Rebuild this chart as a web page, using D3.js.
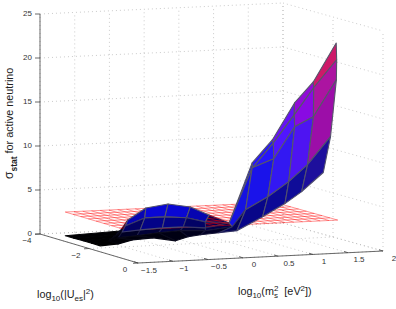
<!DOCTYPE html>
<html>
<head>
<meta charset="utf-8">
<script src="https://cdn.jsdelivr.net/npm/d3@7"></script>
<style>
body { margin: 0; background: #fff; }
svg { display: block; font-family: "Liberation Sans", sans-serif; }
</style>
</head>
<body>
<div id="chart"></div>
<script>
// tick values and labels
var massTicks = [-1.5, -1, -0.5, 0, 0.5, 1, 1.5, 2];
var massLabels = ['\u22121.5', '\u22121', '\u22120.5', '0', '0.5', '1', '1.5', '2'];
var mixTicks = [-4, -2, 0];
var mixLabels = ['\u22124', '\u22122', '0'];
var sigmaTicks = [0, 5, 10, 15, 20, 25];

// surface, one row per mixing value
var rowMix = [-2.25, -2.6, -2.95, -3.3, -3.65];
var rowMass = [
    [-1.25, -0.99, -0.79, -0.49, -0.17, 0.01, 0.19, 0.45, 0.71, 1.08, 1.40, 1.64, 1.95],
    [-1.25, -1.01, -0.87, -0.60, -0.29, 0.02, 0.38, 0.77, 0.96, 1.28, 1.58, 1.85, 2.18],
    [-1.25, -0.83, -0.69, -0.43, -0.11, 0.19, 0.51, 0.85, 1.18, 1.49, 1.79, 2.06, 2.39],
    [-1.26, -0.65, -0.52, -0.24, 0.05, 0.36, 0.63, 0.98, 1.31, 1.61, 1.91, 2.19, 2.52],
    [-1.26, -0.47, -0.36, -0.10, 0.22, 0.54, 0.81, 1.10, 1.43, 1.72, 2.04, 2.31, 2.64]
];
var rowSigma = [
    [0, 0.13, 0.51, 0.63, 0.17, 0.56, 0.73, 0.86, 1.00, 2.45, 3.82, 5.09, 7.15],
    [0, 0.19, 0.48, 0.61, 0.84, 0.96, 0.83, 1.14, 3.01, 4.37, 5.97, 7.80, 10.87],
    [0, 0.17, 0.80, 0.94, 1.05, 1.06, 0.83, 1.27, 7.41, 8.32, 11.85, 12.89, 16.97],
    [0, 0.16, 1.14, 1.95, 1.96, 1.74, 1.18, 0.95, 7.08, 9.81, 12.88, 15.86, 18.92],
    [0, 0.26, 1.47, 2.74, 3.08, 2.63, 1.62, 0.61, 7.31, 9.82, 13.91, 16.20, 20.51]
];

// flat reference plane
var planeLevel = 2.7;
var planeMass = [-1.26, 1.76];
var planeMix = [-3.65, -1.14];

var width = 396, height = 309;
var svg = d3.select('#chart').append('svg')
    .attr('width', width)
    .attr('height', height);

// box corners on screen, the rest is placed from these with the scales
var uScale = d3.scaleLinear().domain([-1.5, 2]).range([0, 1]);
var vScale = d3.scaleLinear().domain([-4, 0]).range([0, 1]);
var zScale = d3.scaleLinear().domain([0, 25]).range([0, -220]);

function project(x, y, z) {
    var u = uScale(x), v = vScale(y);
    return [
        40 + 243 * u + 98 * v + 2 * u * v,
        234 - 11 * u + 29 * v - u * v + zScale(z)
    ];
}

function line3(g, a, b) {
    var p = project(a[0], a[1], a[2]), q = project(b[0], b[1], b[2]);
    return g.append('line')
        .attr('x1', p[0]).attr('y1', p[1])
        .attr('x2', q[0]).attr('y2', q[1]);
}

// dotted grid on both walls and the floor
var grid = svg.append('g')
    .attr('stroke', '#b5b5b5')
    .attr('stroke-width', 0.7)
    .attr('stroke-dasharray', '1 3');

sigmaTicks.forEach(function(s) {
    line3(grid, [-1.5, -4, s], [2, -4, s]);
    line3(grid, [2, -4, s], [2, 0, s]);
});
massTicks.forEach(function(m) {
    line3(grid, [m, -4, 0], [m, -4, 25]);
    line3(grid, [m, -4, 0], [m, 0, 0]);
});
mixTicks.forEach(function(u) {
    line3(grid, [2, u, 0], [2, u, 25]);
    line3(grid, [-1.5, u, 0], [2, u, 0]);
});

// surface cells
var sigmaColor = d3.scaleLinear()
    .domain([0, 8, 12, 13, 16, 17, 19, 20.5])
    .range(['#0000eb', '#1914f5', '#3719ff', '#5514ff', '#8c0ae1', '#a50faf', '#ac14a0', '#cd1969'])
    .interpolate(d3.interpolateRgb);
var lightScale = d3.scaleLinear()
    .domain([0, 0.5, 1, 2, 3.5])
    .range([0, 0.06, 0.32, 0.85, 1])
    .clamp(true);
var bandLight = [0.62, 0.95, 1, 1];

var cells = [];
d3.range(rowMix.length - 1).forEach(function(j) {
    d3.range(rowMass[j].length - 1).forEach(function(i) {
        var corners = [[j, i], [j, i + 1], [j + 1, i + 1], [j + 1, i]].map(function(c) {
            return [rowMass[c[0]][c[1]], rowMix[c[0]], rowSigma[c[0]][c[1]]];
        });
        cells.push({ band: j, col: i, corners: corners });
    });
});

function cellMean(d) { return d3.mean(d.corners, function(c) { return c[2]; }); }
function cellMax(d) { return d3.max(d.corners, function(c) { return c[2]; }); }

// back rows first
cells.sort(function(a, b) { return b.band - a.band || a.col - b.col; });

function drawCells(list) {
    var path = d3.line();
    svg.append('g').selectAll('path')
        .data(list)
        .join('path')
        .attr('d', function(d) {
            return path(d.corners.map(function(c) { return project(c[0], c[1], c[2]); })) + 'Z';
        })
        .each(function(d) {
            var shade = lightScale(cellMean(d)) * bandLight[d.band];
            var fill = d3.interpolateRgb('#000', sigmaColor(cellMax(d)))(shade);
            d3.select(this)
                .attr('fill', fill)
                .attr('stroke', d3.interpolateRgb(fill, '#55556a')(Math.min(1, shade * 1.5)))
                .attr('stroke-width', 1.1)
                .attr('stroke-linejoin', 'round');
        });
}

// the plane passes through the surface: low cells are seen through it
var splitAt = 1.2;
drawCells(cells.filter(function(d) { return cellMean(d) < splitAt; }));

var plane = svg.append('g')
    .attr('stroke', '#ff0000')
    .attr('stroke-width', 0.5)
    .attr('stroke-opacity', 0.85);
d3.range(0, 25).forEach(function(k) {
    var m = planeMass[0] + k * (planeMass[1] - planeMass[0]) / 24;
    line3(plane, [m, planeMix[0], planeLevel], [m, planeMix[1], planeLevel]);
});
d3.range(0, 9).forEach(function(k) {
    var u = planeMix[0] + k * (planeMix[1] - planeMix[0]) / 8;
    line3(plane, [planeMass[0], u, planeLevel], [planeMass[1], u, planeLevel]);
});

drawCells(cells.filter(function(d) { return cellMean(d) >= splitAt; }));

// axis lines and ticks
var axes = svg.append('g')
    .attr('stroke', '#444')
    .attr('stroke-width', 0.8);
line3(axes, [-1.5, -4, 0], [-1.5, -4, 25]);
line3(axes, [-1.5, -4, 0], [-1.5, 0, 0]);
line3(axes, [-1.5, 0, 0], [2, 0, 0]);

sigmaTicks.forEach(function(s) {
    var p = project(-1.5, -4, s);
    axes.append('line')
        .attr('x1', p[0] - 5).attr('y1', p[1])
        .attr('x2', p[0]).attr('y2', p[1]);
    svg.append('text')
        .attr('x', p[0] - 8)
        .attr('y', p[1] + 2)
        .attr('text-anchor', 'end')
        .attr('font-size', 8)
        .attr('fill', '#333')
        .text(s);
});
massTicks.forEach(function(m, i) {
    var p = project(m, 0, 0);
    axes.append('line')
        .attr('x1', p[0]).attr('y1', p[1])
        .attr('x2', p[0] - 4).attr('y2', p[1] - 1.2);
    svg.append('text')
        .attr('x', p[0] + 11)
        .attr('y', p[1] + 9.5)
        .attr('text-anchor', 'middle')
        .attr('font-size', 8)
        .attr('fill', '#333')
        .text(massLabels[i]);
});
mixTicks.forEach(function(u, i) {
    var p = project(-1.5, u, 0);
    axes.append('line')
        .attr('x1', p[0]).attr('y1', p[1])
        .attr('x2', p[0] - 5).attr('y2', p[1] + 0.3);
    svg.append('text')
        .attr('x', p[0] - 13)
        .attr('y', p[1] + 9)
        .attr('text-anchor', 'middle')
        .attr('font-size', 8)
        .attr('fill', '#333')
        .text(mixLabels[i]);
});

// axis titles
function title(x, y, rotate, parts) {
    var t = svg.append('text')
        .attr('transform', 'translate(' + x + ',' + y + ') rotate(' + rotate + ')')
        .attr('font-size', 10.8)
        .attr('fill', '#222');
    parts.forEach(function(p) {
        var s = t.append('tspan').text(p.text);
        if (p.dy) s.attr('dy', p.dy);
        if (p.dx) s.attr('dx', p.dx);
        if (p.size) s.attr('font-size', p.size);
        if (p.weight) s.attr('font-weight', p.weight);
    });
}

title(13, 179, -90, [
    { text: '\u03c3', size: 12 },
    { text: 'stat', dy: 3.5, size: 8.5, weight: 'bold' },
    { text: ' for active neutrino', dy: -3.5 }
]);
title(37, 298, 0, [
    { text: 'log' },
    { text: '10', dy: 3, size: 8 },
    { text: '(|U', dy: -3 },
    { text: 'es', dy: 3, size: 8 },
    { text: '|', dy: -3 },
    { text: '2', dy: -4, size: 8 },
    { text: ')', dy: 4 }
]);
title(238, 295, 0, [
    { text: 'log' },
    { text: '10', dy: 3, size: 8 },
    { text: '(m', dy: -3 },
    { text: 's', dy: 3, size: 8 },
    { text: '2', dy: -7.5, dx: -4, size: 8 },
    { text: '  [eV', dy: 4.5, dx: 3 },
    { text: '2', dy: -4, size: 8 },
    { text: '])', dy: 4 }
]);
</script>
</body>
</html>
